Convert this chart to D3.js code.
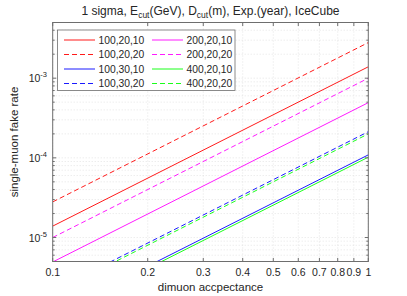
<!DOCTYPE html>
<html><head><meta charset="utf-8">
<script src="https://cdn.jsdelivr.net/npm/d3@7"></script>
<style>body{margin:0;background:#fff}svg{display:block}text{font-family:"Liberation Sans",Arial,sans-serif;fill:#262626}</style>
</head><body>
<script>
const seriesNames = ["100,20,10","100,20,20","100,30,10","100,30,20","200,20,10","200,20,20","400,20,10","400,20,20"];
const seriesColors = ["#ff0000","#ff0000","#0000ff","#0000ff","#ff00ff","#ff00ff","#00ff00","#00ff00"];
const seriesDash = [false,true,false,true,false,true,false,true];
// fake rate at acceptance = 0.1 and acceptance = 1 (straight lines in log-log)
const acceptance = [0.1, 1];
const rateAt = [
  [1.39e-5, 1.39e-3],
  [2.8e-5, 2.8e-3],
  [1.09e-6, 1.09e-4],
  [2.13e-6, 2.13e-4],
  [4.93e-6, 4.93e-4],
  [1.0e-5, 1.0e-3],
  [1.02e-6, 1.02e-4],
  [2.0e-6, 2.0e-4]
];
const xTicks = [0.1,0.2,0.3,0.4,0.5,0.6,0.7,0.8,0.9,1];
const xTickLabels = ["0.1","0.2","0.3","0.4","0.5","0.6","0.7","0.8","0.9","1"];
const yMajor = [1e-5,1e-4,1e-3];
const yMajorExp = ["-5","-4","-3"];
const xDomain = [0.1, 1];
const yDomain = [5e-6, 5e-3];

const W=407,H=296;
const L=52.7,R=368.3,T=22.5,B=261.5;
const svg=d3.select("body").append("svg").attr("width",W).attr("height",H);
const x=d3.scaleLog().domain(xDomain).range([L,R]);
const y=d3.scaleLog().domain(yDomain).range([B,T]);

const yMinor=[];
for(let e=-6;e<=-3;e++){for(let m=2;m<=9;m++){const v=m*Math.pow(10,e);if(v>=yDomain[0]*0.999&&v<=yDomain[1]*1.001)yMinor.push(v);}}

const grid=svg.append("g").attr("stroke","#d4d4d4").attr("stroke-width",0.6).attr("stroke-dasharray","1,2");
xTicks.forEach(v=>grid.append("line").attr("x1",x(v)).attr("x2",x(v)).attr("y1",T).attr("y2",B));
yMajor.concat(yMinor).forEach(v=>grid.append("line").attr("x1",L).attr("x2",R).attr("y1",y(v)).attr("y2",y(v)));

const line=d3.line().x(d=>x(d[0])).y(d=>y(d[1]));
svg.append("clipPath").attr("id","c").append("rect").attr("x",L).attr("y",T).attr("width",R-L).attr("height",B-T);
const lg=svg.append("g").attr("clip-path","url(#c)");
rateAt.forEach((r,i)=>{
  lg.append("path").datum(acceptance.map((a,j)=>[a,r[j]])).attr("d",line).attr("fill","none")
    .attr("stroke",seriesColors[i]).attr("stroke-width",0.9).attr("stroke-dasharray",seriesDash[i]?"5,3":null);
});

const ax=svg.append("g").attr("stroke","#6e6e6e").attr("stroke-width",1).attr("fill","none");
ax.append("rect").attr("x",L).attr("y",T).attr("width",R-L).attr("height",B-T);
xTicks.forEach(v=>{
  ax.append("line").attr("x1",x(v)).attr("x2",x(v)).attr("y1",B).attr("y2",B-3.5);
  ax.append("line").attr("x1",x(v)).attr("x2",x(v)).attr("y1",T).attr("y2",T+3.5);
});
yMajor.forEach(v=>{
  ax.append("line").attr("x1",L).attr("x2",L+3.5).attr("y1",y(v)).attr("y2",y(v));
  ax.append("line").attr("x1",R).attr("x2",R-3.5).attr("y1",y(v)).attr("y2",y(v));
});
yMinor.forEach(v=>{
  ax.append("line").attr("x1",L).attr("x2",L+2).attr("y1",y(v)).attr("y2",y(v));
  ax.append("line").attr("x1",R).attr("x2",R-2).attr("y1",y(v)).attr("y2",y(v));
});

xTicks.forEach((v,i)=>svg.append("text").attr("x",x(v)).attr("y",276).attr("text-anchor","middle").attr("font-size",10.5).text(xTickLabels[i]));
yMajor.forEach((v,i)=>{
  const t=svg.append("text").attr("x",47).attr("y",y(v)+4).attr("text-anchor","end").attr("font-size",10.5);
  t.append("tspan").text("10");
  t.append("tspan").attr("dy",-5).attr("font-size",7.5).text(yMajorExp[i]);
});

svg.append("text").attr("x",(L+R)/2).attr("y",291).attr("text-anchor","middle").attr("font-size",11.5).text("dimuon accpectance");
svg.append("text").attr("transform",`translate(18,${(T+B)/2}) rotate(-90)`).attr("text-anchor","middle").attr("font-size",11.5).text("single-muon fake rate");

const tt=svg.append("text").attr("x",(L+R)/2).attr("y",14.5).attr("text-anchor","middle").attr("font-size",12);
tt.append("tspan").text("1 sigma, E");
tt.append("tspan").attr("dy",3).attr("font-size",8.5).text("cut");
tt.append("tspan").attr("dy",-3).text("(GeV), D");
tt.append("tspan").attr("dy",3).attr("font-size",8.5).text("cut");
tt.append("tspan").attr("dy",-3).text("(m), Exp.(year), IceCube");

const legOrder=[[0,4],[1,5],[2,6],[3,7]];
const lgd=svg.append("g");
lgd.append("rect").attr("x",57.5).attr("y",30).attr("width",177.5).attr("height",60.5).attr("fill","#fff").attr("stroke","#6e6e6e").attr("stroke-width",0.8);
legOrder.forEach((pair,row)=>{
  const yy=40+row*14.5;
  pair.forEach((si,col)=>{
    const x0=col===0?64:152;
    lgd.append("line").attr("x1",x0).attr("x2",x0+31).attr("y1",yy).attr("y2",yy)
      .attr("stroke",seriesColors[si]).attr("stroke-width",0.9).attr("stroke-dasharray",seriesDash[si]?"5,3":null);
    lgd.append("text").attr("x",x0+34.5).attr("y",yy+3.8).attr("font-size",10.3).text(seriesNames[si]);
  });
});
</script>
</body></html>
